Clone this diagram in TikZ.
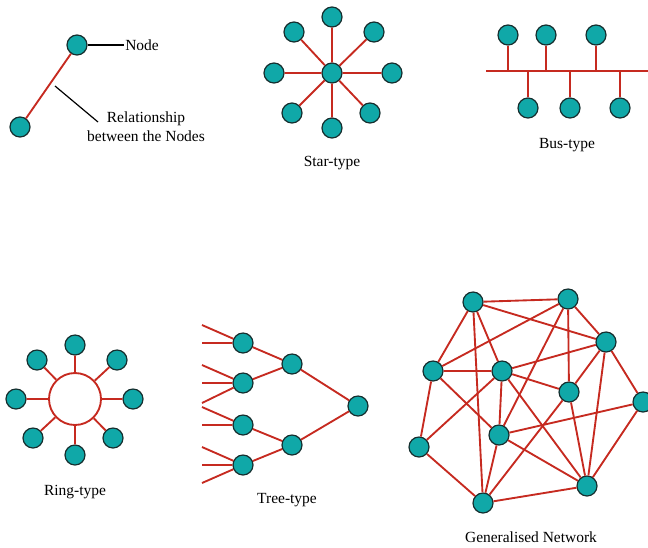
\documentclass[tikz,border=0pt]{standalone}
\usepackage{fontspec}
\setmainfont{Liberation Serif}
\usepackage{tikz}
\definecolor{nodeteal}{RGB}{16,168,168}
\definecolor{linkred}{RGB}{198,42,32}
\definecolor{rimdark}{RGB}{22,46,46}
\tikzset{
  vertex/.style={circle,draw=rimdark,line width=0.9pt,fill=nodeteal,minimum size=15pt,inner sep=0pt},
  link/.style={draw=linkred,line width=1.4pt},
  caption/.style={inner sep=0.75pt,font=\fontsize{11.6}{14.25}\selectfont}
}
\begin{document}
\begin{tikzpicture}[x=0.75pt,y=0.75pt,yscale=-1,xscale=1]
\path[use as bounding box] (0,0) rectangle (648,547);
%Legend
\node[vertex] (key1) at (77,45) {};
\node[vertex] (key2) at (20,127) {};
\draw[link] (key1) -- (key2);
\node[caption,anchor=west] (keynode) at (124,45) {Node};
\draw[line width=0.9pt] (key1) -- (keynode.west);
\node[caption,align=center] (keyrel) at (146,126.5) {Relationship\\between the Nodes};
\coordinate (relfoot) at (55,86);
\coordinate (relend) at (98,122);
\draw[line width=0.9pt] (relfoot) -- (relend);
%Star-type
\node[vertex] (s0) at (332,73) {};
\node[vertex] (s1) at (332,17) {};
\node[vertex] (s2) at (374,32) {};
\node[vertex] (s3) at (392,73) {};
\node[vertex] (s4) at (370,113) {};
\node[vertex] (s5) at (332,128) {};
\node[vertex] (s6) at (292,113) {};
\node[vertex] (s7) at (274,73) {};
\node[vertex] (s8) at (294,32) {};
\draw[link] (s0) -- (s1) (s0) -- (s2) (s0) -- (s3) (s0) -- (s4);
\draw[link] (s0) -- (s5) (s0) -- (s6) (s0) -- (s7) (s0) -- (s8);
\node[caption] (startxt) at (332,163) {Star-type};
%Bus-type
\coordinate (busl) at (486,71);
\coordinate (busr) at (648,71);
\draw[link] (busl) -- (busr);
\node[vertex] (b1) at (508,35) {};
\node[vertex] (b2) at (546,35) {};
\node[vertex] (b3) at (596,35) {};
\node[vertex] (b4) at (528,108) {};
\node[vertex] (b5) at (570,108) {};
\node[vertex] (b6) at (620,108) {};
\draw[link] (b1) -- (b1 |- busl) (b2) -- (b2 |- busl) (b3) -- (b3 |- busl);
\draw[link] (b4) -- (b4 |- busl) (b5) -- (b5 |- busl) (b6) -- (b6 |- busl);
\node[caption] (bustxt) at (567,145) {Bus-type};
%Ring-type
\node[circle,draw=linkred,line width=1.4pt,fill=white,minimum size=39pt,inner sep=0pt] (ring) at (75,399) {};
\node[vertex] (r1) at (75,345) {};
\node[vertex] (r2) at (117,360) {};
\node[vertex] (r3) at (133,399) {};
\node[vertex] (r4) at (113,438) {};
\node[vertex] (r5) at (75,455) {};
\node[vertex] (r6) at (33,438) {};
\node[vertex] (r7) at (16,399) {};
\node[vertex] (r8) at (37,360) {};
\draw[link] (ring) -- (r1) (ring) -- (r2) (ring) -- (r3) (ring) -- (r4);
\draw[link] (ring) -- (r5) (ring) -- (r6) (ring) -- (r7) (ring) -- (r8);
\node[caption] (ringtxt) at (75,492) {Ring-type};
%Tree-type
\node[vertex] (t1) at (243,343) {};
\node[vertex] (t2) at (243,383) {};
\node[vertex] (t3) at (243,425) {};
\node[vertex] (t4) at (243,465) {};
\node[vertex] (u1) at (292,364) {};
\node[vertex] (u2) at (292,445) {};
\node[vertex] (root) at (358,406) {};
\coordinate (l1) at (202,325);
\coordinate (l2) at (202,343);
\coordinate (l3) at (202,365);
\coordinate (l4) at (202,383);
\coordinate (l5) at (202,403);
\coordinate (l6) at (202,407);
\coordinate (l7) at (202,425);
\coordinate (l8) at (202,447);
\coordinate (l9) at (202,465);
\coordinate (l10) at (202,483);
\draw[link] (l1) -- (t1) (l2) -- (t1);
\draw[link] (l3) -- (t2) (l4) -- (t2) (l5) -- (t2);
\draw[link] (l6) -- (t3) (l7) -- (t3);
\draw[link] (l8) -- (t4) (l9) -- (t4) (l10) -- (t4);
\draw[link] (t1) -- (u1) (t2) -- (u1) (t3) -- (u2) (t4) -- (u2);
\draw[link] (u1) -- (root) (u2) -- (root);
\node[caption] (treetxt) at (287,500) {Tree-type};
%Generalised Network
\node[vertex] (ga) at (473,302) {};
\node[vertex] (gb) at (568,299) {};
\node[vertex] (gc) at (606,342) {};
\node[vertex] (gd) at (433,371) {};
\node[vertex] (ge) at (502,371) {};
\node[vertex] (gf) at (569,392) {};
\node[vertex] (gg) at (643,402) {};
\node[vertex] (gh) at (499,435) {};
\node[vertex] (gi) at (419,447) {};
\node[vertex] (gj) at (483,503) {};
\node[vertex] (gk) at (587,486) {};
\draw[link] (ga) -- (gb) (ga) -- (gc) (ga) -- (gd) (ga) -- (ge) (ga) -- (gj);
\draw[link] (gb) -- (gc) (gb) -- (gd) (gb) -- (gf) (gb) -- (gh);
\draw[link] (gc) -- (ge) (gc) -- (gf) (gc) -- (gg) (gc) -- (gk);
\draw[link] (gd) -- (ge) (gd) -- (gh) (gd) -- (gi);
\draw[link] (ge) -- (gf) (ge) -- (gh) (ge) -- (gi) (ge) -- (gk);
\draw[link] (gf) -- (gj) (gf) -- (gk);
\draw[link] (gg) -- (gh) (gg) -- (gk);
\draw[link] (gh) -- (gj) (gh) -- (gk);
\draw[link] (gi) -- (gj) (gj) -- (gk);
\node[caption] (gentxt) at (531,537) {Generalised Network};
\end{tikzpicture}
\end{document}
